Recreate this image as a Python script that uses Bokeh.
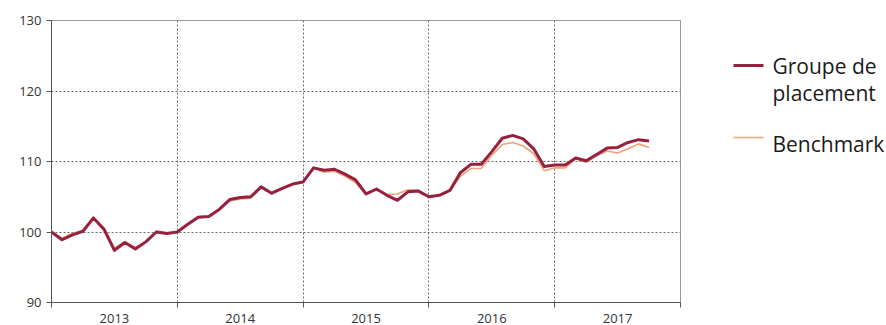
from bokeh.plotting import figure
from bokeh.layouts import row
from bokeh.models import FixedTicker, Range1d
from bokeh.core.properties import value
from bokeh.embed import file_html
from bokeh.resources import INLINE

start_year = 2013
year_labels = ["2013", "2014", "2015", "2016", "2017"]
y_ticks = [90, 100, 110, 120, 130]

groupe = [
    100.0, 98.9, 99.6, 100.1, 102.0, 100.4, 97.4, 98.5, 97.6, 98.6, 100.0, 99.8,
    100.0, 101.1, 102.1, 102.2, 103.2, 104.6, 104.9, 105.0, 106.4, 105.5, 106.2, 106.8,
    107.1, 109.1, 108.75, 108.9, 108.2, 107.4, 105.4, 106.1, 105.2, 104.5, 105.7, 105.8,
    105.0, 105.2, 105.9, 108.4, 109.6, 109.6, 111.4, 113.3, 113.7, 113.2, 111.8, 109.3,
    109.5, 109.5, 110.5, 110.1, 111.0, 111.9, 112.0, 112.7, 113.1, 112.9,
]
benchmark = [
    100.0, 99.1, 99.8, 100.2, 102.0, 100.6, 97.7, 98.6, 97.8, 98.7, 100.1, 99.9,
    100.0, 101.2, 102.2, 102.2, 103.2, 104.4, 104.7, 104.8, 106.3, 105.4, 106.1, 106.7,
    107.1, 109.0, 108.5, 108.6, 107.9, 107.0, 105.3, 106.0, 105.3, 105.4, 106.0, 105.9,
    104.9, 105.3, 105.8, 107.9, 109.0, 109.0, 110.9, 112.4, 112.7, 112.2, 111.1, 108.7,
    109.1, 109.1, 110.4, 109.9, 110.8, 111.5, 111.2, 111.8, 112.5, 112.0,
]
x = [start_year + i / 12 for i in range(len(groupe))]

RED = "#96203E"
ORANGE = "#EBA378"
FONT = "Open Sans"

p = figure(frame_width=629, frame_height=282, output_backend="svg", toolbar_location=None,
           x_range=Range1d(2013, 2018), y_range=Range1d(90, 130),
           min_border_left=51, min_border_right=2, min_border_top=20, min_border_bottom=20)
p.outline_line_color = "#9a9a9a"
p.background_fill_color = "white"
p.border_fill_color = "white"

p.line(x, benchmark, line_color=ORANGE, line_width=1.6)
p.line(x, groupe, line_color=RED, line_width=3, line_join="round")

xt = FixedTicker(ticks=[start_year + i + 0.5 for i in range(len(year_labels))],
                 minor_ticks=[start_year + i for i in range(len(year_labels) + 1)])
p.xaxis.ticker = xt
p.xaxis.major_label_overrides = {start_year + i + 0.5: lab for i, lab in enumerate(year_labels)}
p.xaxis.major_tick_line_color = None
p.xaxis.major_tick_out = 0
p.xaxis.major_tick_in = 0
p.xaxis.minor_tick_out = 5
p.xaxis.minor_tick_in = 0
p.xaxis.minor_tick_line_color = "#555555"
p.xaxis.major_label_standoff = 6

p.yaxis.ticker = FixedTicker(ticks=y_ticks)
p.yaxis.major_tick_out = 5
p.yaxis.major_tick_in = 0
p.yaxis.major_tick_line_color = "#555555"
p.yaxis.minor_tick_line_color = None
p.yaxis.major_label_standoff = 5

for ax in (p.xaxis[0], p.yaxis[0]):
    ax.axis_line_color = "#555555"
    ax.major_label_text_font = FONT
    ax.major_label_text_font_size = "13px"
    ax.major_label_text_color = "#333333"

p.xgrid.ticker = FixedTicker(ticks=[2014, 2015, 2016, 2017])
p.ygrid.ticker = FixedTicker(ticks=[100, 110, 120])
for g in (p.xgrid[0], p.ygrid[0]):
    g.grid_line_color = "#6a6a6a"
    g.grid_line_dash = "2 2"
    g.grid_line_width = 1

# legend panel: frame aligned with the main frame (page y 20..302, x 682..886)
lg = figure(frame_width=204, frame_height=282, output_backend="svg", toolbar_location=None,
            x_range=Range1d(682, 886), y_range=Range1d(302, 20),
            x_axis_type=None, y_axis_type=None,
            min_border_left=0, min_border_right=0,
            min_border_top=20, min_border_bottom=20)
lg.grid.visible = False
lg.outline_line_color = None
lg.line([733, 763], [65, 65], line_color=RED, line_width=3)
lg.line([733, 763], [137, 137], line_color=ORANGE, line_width=1.6)
lg.text(x=[772, 772, 772], y=[65, 92, 143], text=["Groupe de", "placement", "Benchmark"],
        text_font=value(FONT), text_font_size="21px", text_color="#1a1a1a",
        text_baseline="middle", text_align="left")

layout = row(p, lg, spacing=0)
open("out.html", "w").write(file_html(layout, INLINE))
